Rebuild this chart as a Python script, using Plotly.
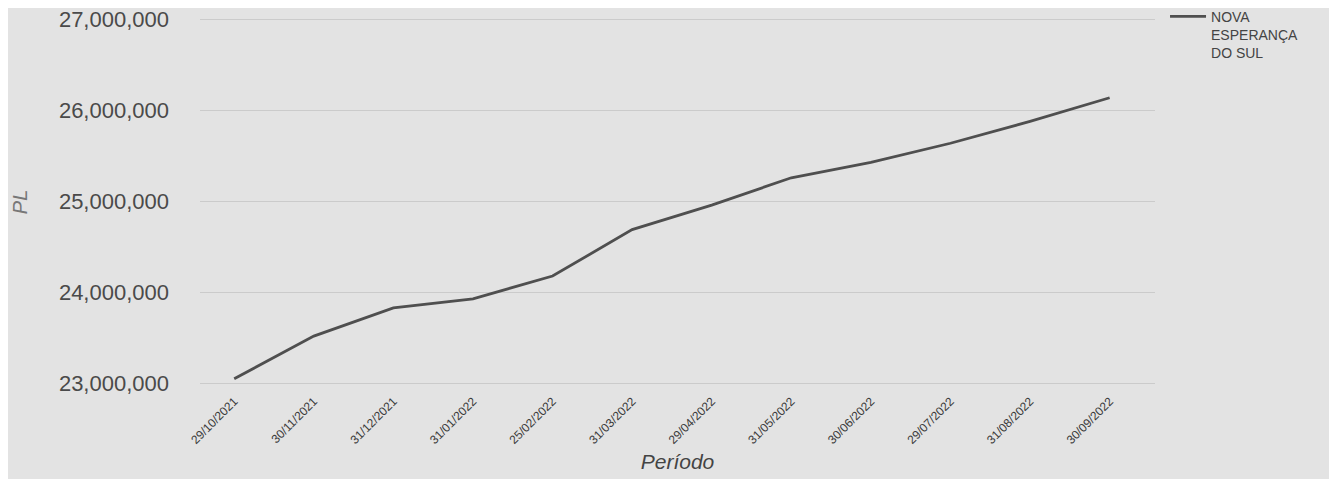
import plotly.graph_objects as go

periods = ["29/10/2021", "30/11/2021", "31/12/2021", "31/01/2022", "25/02/2022",
           "31/03/2022", "29/04/2022", "31/05/2022", "30/06/2022", "29/07/2022",
           "31/08/2022", "30/09/2022"]
pl_values = [23050000, 23520000, 23830000, 23930000, 24180000, 24690000,
             24960000, 25260000, 25430000, 25640000, 25880000, 26140000]
series_name = "NOVA<br>ESPERANÇA<br>DO SUL"
y_ticks = [23000000, 24000000, 25000000, 26000000, 27000000]

bg = "#e3e3e3"
fig = go.Figure()
fig.add_trace(go.Scatter(
    x=periods, y=pl_values, mode="lines", name=series_name,
    line=dict(color="#4f4f4f", width=2.8),
))

fig.update_layout(
    width=1337, height=479,
    paper_bgcolor=bg, plot_bgcolor=bg,
    margin=dict(l=192, r=190, t=7, b=90, autoexpand=False),
    font=dict(family="Liberation Sans, Arial, sans-serif", color="#4a4a4a"),
    showlegend=True,
    legend=dict(x=1.0105, y=1.037, xanchor="left", yanchor="top",
                valign="top",
                bgcolor="rgba(0,0,0,0)", font=dict(size=14, color="#444444"),
                itemwidth=36),
    xaxis=dict(
        type="category", range=[-0.43, 11.57],
        showgrid=False, zeroline=False, showline=False,
        tickangle=-45, tickfont=dict(size=12, color="#3a3a3a"),
        ticklabelstandoff=-6,
        title=dict(text="Período", font=dict(size=21, color="#444444",
                                             style="italic"), standoff=8),
    ),
    yaxis=dict(
        range=[22850000, 27050000], tickvals=y_ticks,
        tickformat=",d", showgrid=True, gridcolor="#cbcbcb", gridwidth=1,
        zeroline=False, showline=False, ticklabeloverflow="allow",
        tickfont=dict(size=22, color="#4a4a4a"), ticklabelstandoff=30,
    ),
    annotations=[dict(
        text="PL", textangle=-90, xref="paper", yref="paper",
        x=-0.1885, y=0.51, xanchor="center", yanchor="middle",
        showarrow=False, font=dict(size=20, color="#777777", style="italic"),
    )],
)

fig.write_html("out.html")
